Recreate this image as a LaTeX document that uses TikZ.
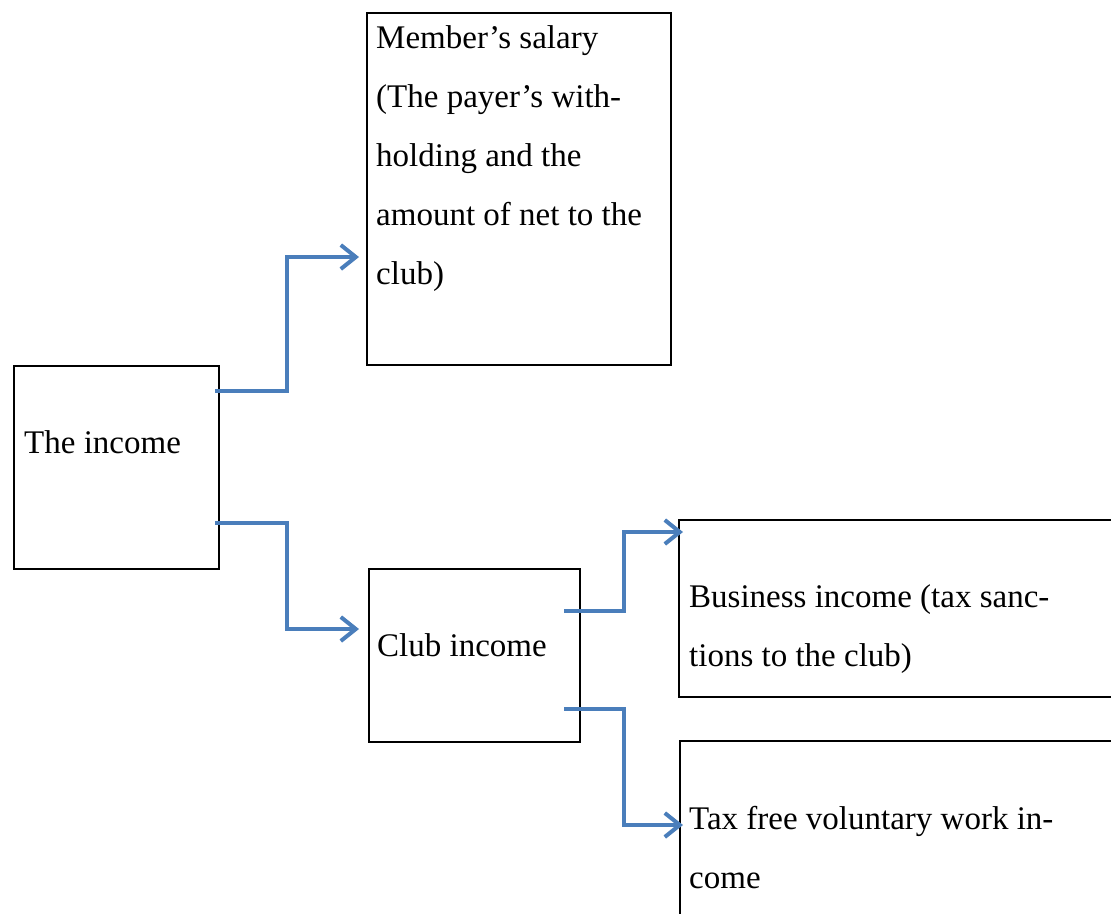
\documentclass[tikz,border=0pt]{standalone}
\usepackage{fontspec}
\setmainfont{Liberation Serif}
\usetikzlibrary{arrows.meta,calc}
\definecolor{arrowblue}{HTML}{4A7EBB}
\tikzset{
  box/.style={draw=black, line width=2pt, inner sep=0pt, anchor=north west},
  label/.style={inner sep=0pt, anchor=base west, align=left,
    font=\fontsize{33pt}{59pt}\selectfont},
  conn/.style={draw=arrowblue, line width=4pt,
    -{Straight Barb[length=15pt,width=24pt]}}
}
\begin{document}
\begin{tikzpicture}[x=1pt,y=-1pt]
\useasboundingbox[fill=white] (0,0) rectangle (1111,913);
\clip (0,0) rectangle (1111,913);
% boxes
\node[box, minimum width=205pt, minimum height=203pt] (income) at (13,365) {};
\node[box, minimum width=304pt, minimum height=352pt] (member) at (366,12) {};
\node[box, minimum width=211pt, minimum height=173pt] (club) at (368,568) {};
\node[box, minimum width=500pt, minimum height=177pt] (business) at (678,519) {};
\node[box, minimum width=500pt, minimum height=250pt] (tax) at (679,740) {};
% texts (anchored at the baseline of their last line)
\node[label] (tincome) at (24,453) {The income};
\node[label] (tmember) at (376,284) {Member’s salary\\(The payer’s with-\\holding and the\\amount of net to the\\club)};
\node[label] (tclub) at (377,656) {Club income};
\node[label] (tbusiness) at (689,666) {Business income (tax sanc-\\tions to the club)};
\node[label] (ttax) at (689,888) {Tax free voluntary work in-\\come};
% connectors
\coordinate (s1) at ($(income.north east)+(-5,26)$);
\coordinate (t1) at ($(member.west)+(-7,68)$);
\draw[conn] (s1) -| ($(s1)!0.5!(t1)$) |- (t1);
\coordinate (s2) at ($(income.south east)+(-5,-47)$);
\coordinate (t2) at ($(club.west)+(-9,-26.5)$);
\draw[conn] (s2) -| ($(s2)!0.5!(t2)$) |- (t2);
\coordinate (s3) at ($(club.east)+(-17,-44.5)$);
\coordinate (t3) at ($(business.north west)+(5,13)$);
\draw[conn] (s3) -| ($(s3)!0.5!(t3)$) |- (t3);
\coordinate (s4) at ($(club.east)+(-17,53.5)$);
\coordinate (t4) at ($(tax.north west)+(4,85)$);
\draw[conn] (s4) -| ($(s4)!0.5!(t4)$) |- (t4);
\end{tikzpicture}
\end{document}
